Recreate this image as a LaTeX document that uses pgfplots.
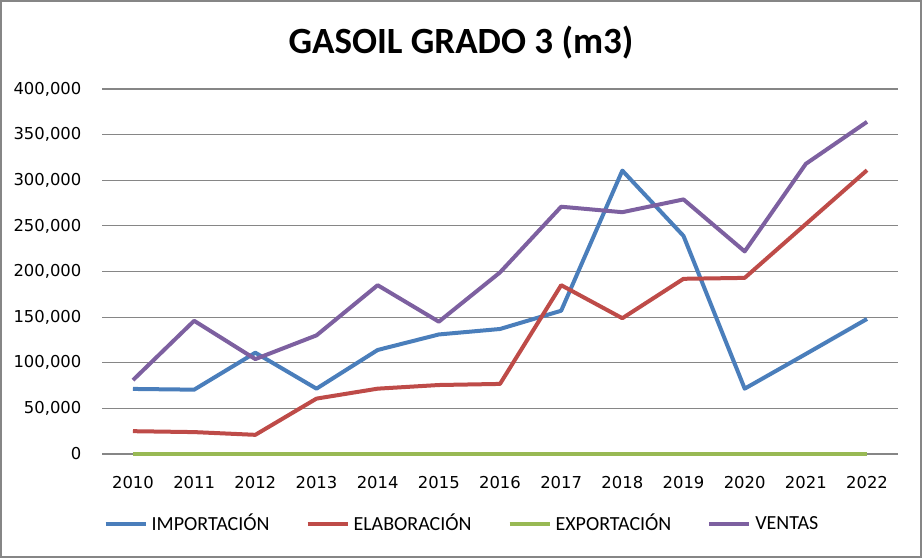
\documentclass[border=0pt]{standalone}
\usepackage{pgfplots}
\pgfplotsset{compat=1.18}
\usepackage{fontspec}
\setmainfont{Carlito}
\newfontfamily\tickfont{DejaVu Sans}
\definecolor{cblue}{HTML}{4A7EBB}
\definecolor{cred}{HTML}{BE4B48}
\definecolor{cgreen}{HTML}{98B954}
\definecolor{cpurple}{HTML}{7D60A0}
\definecolor{cgrid}{HTML}{868686}
\begin{document}
\begin{tikzpicture}
\path[use as bounding box] (0,0) rectangle (461pt,279pt);
\draw[cgrid, line width=1.2pt] (0.6pt,0.6pt) rectangle (460.4pt,278.4pt);
\node[font=\bfseries\fontsize{18.5}{22}\selectfont] at (230.5pt,257.5pt) {GASOIL GRADO 3 (m3)};
\begin{axis}[
  at={(51.2pt,52pt)}, anchor=south west,
  scale only axis, width=397.6pt, height=182.5pt,
  xmin=-0.5, xmax=12.5, ymin=0, ymax=400000,
  xtick={0,...,12},
  xticklabels={2010,2011,2012,2013,2014,2015,2016,2017,2018,2019,2020,2021,2022},
  ytick={0,50000,...,400000},
  scaled y ticks=false,
  yticklabel={\pgfmathprintnumber[fixed,precision=0,1000 sep={,}]{\tick}},
  /pgf/number format/assume math mode=true,
  ticklabel style={font=\tickfont\fontsize{8.2}{10}\selectfont},
  yticklabel style={anchor=east, xshift=-7pt},
  xticklabel style={anchor=north, yshift=-7.5pt},
  major tick length=0pt,
  tick style={draw=none},
  ymajorgrids, grid style={cgrid, line width=0.6pt},
  axis line style={draw=none},
  legend columns=4,
  legend style={at={(0.4535,-0.192)}, anchor=center, draw=none, fill=none,
    font=\fontsize{10}{12}\selectfont, /tikz/every even column/.append style={column sep=16pt},
    inner sep=0pt},
  legend image code/.code={\draw[#1, line width=2pt] (0pt,0pt) -- (20pt,0pt);},
  every axis plot/.append style={line width=2pt, line join=round},
  clip=false,
]
\addplot[cblue, no marks] coordinates {(0,71300) (1,70500) (2,111000) (3,71600) (4,114000) (5,131000) (6,137000) (7,157000) (8,310600) (9,239000) (10,71600) (11,109600) (12,148000)};
\addlegendentry{IMPORTACIÓN}
\addplot[cred, no marks] coordinates {(0,25000) (1,24000) (2,21000) (3,60700) (4,71600) (5,75600) (6,76800) (7,185000) (8,148800) (9,192000) (10,193000) (11,252000) (12,311000)};
\addlegendentry{ELABORACIÓN}
\addplot[cgreen, no marks] coordinates {(0,0) (1,0) (2,0) (3,0) (4,0) (5,0) (6,0) (7,0) (8,0) (9,0) (10,0) (11,0) (12,0)};
\addlegendentry{EXPORTACIÓN}
\addplot[cpurple, no marks] coordinates {(0,81000) (1,146000) (2,104000) (3,130000) (4,185000) (5,145000) (6,199000) (7,271000) (8,265000) (9,279000) (10,222000) (11,318000) (12,364000)};
\addlegendentry{VENTAS}
\end{axis}
\end{tikzpicture}
\end{document}
